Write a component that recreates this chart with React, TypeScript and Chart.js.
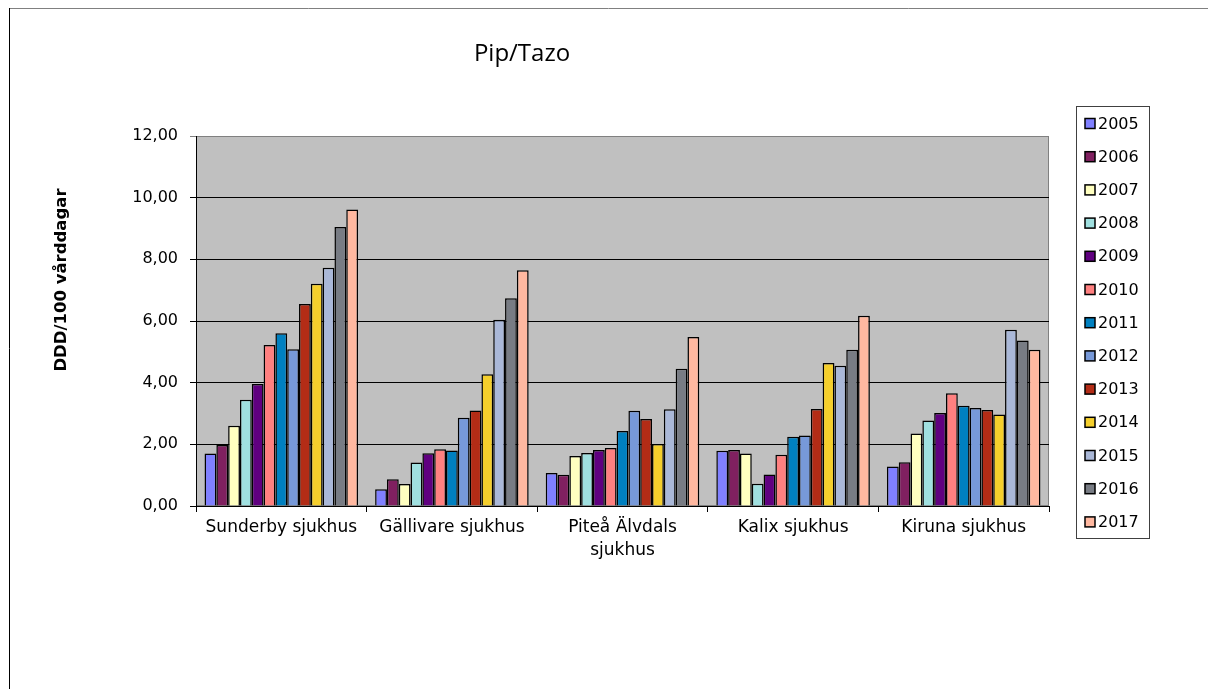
import React, { useEffect, useRef } from "react";
import { Chart, registerables } from "chart.js";

Chart.register(...registerables);

// Hospitals on the category axis
const hospitals: (string | string[])[] = [
  "Sunderby sjukhus",
  "Gällivare sjukhus",
  ["Piteå Älvdals", "sjukhus"],
  "Kalix sjukhus",
  "Kiruna sjukhus",
];

const years = ["2005", "2006", "2007", "2008", "2009", "2010", "2011", "2012", "2013", "2014", "2015", "2016", "2017"];

// DDD/100 vårddagar per hospital, one array per year
const y2005 = [1.70, 0.54, 1.07, 1.79, 1.28];
const y2006 = [1.98, 0.87, 1.01, 1.82, 1.42];
const y2007 = [2.60, 0.71, 1.62, 1.70, 2.35];
const y2008 = [3.45, 1.41, 1.72, 0.72, 2.77];
const y2009 = [3.96, 1.71, 1.82, 1.02, 3.02];
const y2010 = [5.22, 1.84, 1.88, 1.66, 3.66];
const y2011 = [5.60, 1.80, 2.43, 2.25, 3.25];
const y2012 = [5.08, 2.86, 3.09, 2.29, 3.18];
const y2013 = [6.55, 3.10, 2.82, 3.15, 3.11];
const y2014 = [7.21, 4.27, 2.01, 4.64, 2.97];
const y2015 = [7.73, 6.04, 3.14, 4.55, 5.72];
const y2016 = [9.05, 6.74, 4.45, 5.07, 5.37];
const y2017 = [9.62, 7.65, 5.48, 6.17, 5.07];

const seriesValues = [y2005, y2006, y2007, y2008, y2009, y2010, y2011, y2012, y2013, y2014, y2015, y2016, y2017];

const yearColors = [
  "#8080FF", "#802060", "#FFFFC0", "#A0E0E0", "#600080", "#FF8080", "#0080C0",
  "#7799D9", "#B32C16", "#F5CF2C", "#AAB8D8", "#787C84", "#FFB8A0",
];

const yTicks = [0, 2, 4, 6, 8, 10, 12];

const FONT = "'DejaVu Sans', sans-serif";

const decorPlugin = {
  id: "decor",
  beforeDraw(chart: any) {
    const { ctx, chartArea } = chart;
    const { left, top, right, bottom } = chartArea;
    ctx.save();
    // white page
    ctx.fillStyle = "#ffffff";
    ctx.fillRect(0, 0, chart.width, chart.height);
    // outer frame (top and left edges visible)
    ctx.strokeStyle = "#808080";
    ctx.lineWidth = 1;
    ctx.beginPath();
    ctx.moveTo(9, 8.5);
    ctx.lineTo(chart.width, 8.5);
    ctx.stroke();
    ctx.strokeStyle = "#000000";
    ctx.beginPath();
    ctx.moveTo(9.5, 8);
    ctx.lineTo(9.5, chart.height);
    ctx.stroke();
    // plot area
    ctx.fillStyle = "#C0C0C0";
    ctx.fillRect(left, top, right - left, bottom - top);
    ctx.strokeStyle = "#808080";
    ctx.strokeRect(left + 0.5, top + 0.5, right - left - 1, bottom - top - 1);
    ctx.restore();
  },
  afterDraw(chart: any) {
    const { ctx } = chart;
    ctx.save();
    // title
    ctx.fillStyle = "#000000";
    ctx.font = "24px 'Open Sans', sans-serif";
    ctx.textAlign = "center";
    ctx.textBaseline = "middle";
    ctx.fillText("Pip/Tazo", 522, 54);
    // y axis title
    ctx.save();
    ctx.translate(62, 280);
    ctx.rotate(-Math.PI / 2);
    ctx.font = `bold 16.5px ${FONT}`;
    ctx.fillText("DDD/100 vårddagar", 0, 0);
    ctx.restore();
    // legend
    const lx = 1076, ly = 106, lw = 73, lh = 432;
    ctx.strokeStyle = "#404040";
    ctx.lineWidth = 1;
    ctx.strokeRect(lx + 0.5, ly + 0.5, lw, lh);
    ctx.font = `16px ${FONT}`;
    ctx.textAlign = "left";
    chart.data.datasets.forEach((ds: any, i: number) => {
      const cy = 123.5 + i * 33.2;
      ctx.fillStyle = ds.backgroundColor;
      ctx.fillRect(1085, cy - 5, 10, 10);
      ctx.strokeStyle = "#000000";
      ctx.lineWidth = 1.5;
      ctx.strokeRect(1085, cy - 5, 10, 10);
      ctx.fillStyle = "#000000";
      ctx.fillText(ds.label, 1098, cy + 1);
    });
    ctx.restore();
  },
};

export default function App() {
  const ref = useRef<HTMLCanvasElement>(null);
  useEffect(() => {
    document.body.style.margin = "0";
    const chart = new Chart(ref.current!, {
      type: "bar",
      data: {
        labels: hospitals,
        datasets: years.map((yr, i) => ({
          label: yr,
          data: seriesValues[i],
          backgroundColor: yearColors[i],
          borderColor: "#000000",
          borderWidth: 1.5,
          categoryPercentage: 0.9,
          barPercentage: 1.0,
        })),
      },
      options: {
        responsive: false,
        animation: false,
        layout: { padding: { top: 136, right: 159, bottom: 0, left: 0 } },
        plugins: { legend: { display: false }, title: { display: false }, tooltip: { enabled: false } },
        scales: {
          x: {
            afterFit: (s: any) => { s.height = 183; },
            grid: { offset: true, drawOnChartArea: false, color: "#000000", tickLength: 6 },
            border: { color: "#000000", width: 1 },
            ticks: { color: "#000000", font: { family: FONT, size: 17, lineHeight: 1.3 }, padding: 5, maxRotation: 0, autoSkip: false },
          },
          y: {
            min: 0,
            max: 12,
            afterFit: (s: any) => { s.width = 196; },
            afterBuildTicks: (s: any) => { s.ticks = yTicks.map((v) => ({ value: v })); },
            grid: {
              color: (c: any) => (c.tick && c.tick.value === 12 ? "#808080" : "#000000"),
              tickLength: 6,
            },
            border: { color: "#000000", width: 1 },
            ticks: {
              color: "#000000",
              font: { family: FONT, size: 16 },
              padding: 12,
              callback: (v: any) => Number(v).toFixed(2).replace(".", ","),
            },
          },
        },
      },
      plugins: [decorPlugin],
    });
    return () => chart.destroy();
  }, []);
  return <canvas ref={ref} width={1208} height={689} style={{ display: "block" }} />;
}
